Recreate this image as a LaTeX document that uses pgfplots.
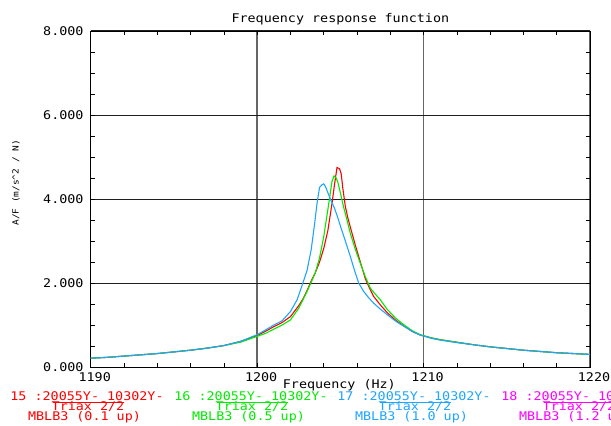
\documentclass[border=0pt]{standalone}
\usepackage{fontspec}
\setmainfont{DejaVu Sans Mono}[FakeStretch=1.12]
\usepackage{pgfplots}
\pgfplotsset{compat=1.18}
\definecolor{cred}{RGB}{255,0,0}
\definecolor{cgreen}{RGB}{0,235,0}
\definecolor{cblue}{RGB}{30,165,255}
\definecolor{cmag}{RGB}{255,0,255}

\pgfplotstableread{
f a
1190 0.21
1191 0.23
1192 0.26
1193 0.29
1194 0.32
1195 0.36
1196 0.40
1197 0.45
1198 0.51
1199 0.61
1200 0.75
1200.5 0.85
1201 0.96
1201.5 1.06
1202 1.20
1202.5 1.46
1202.75 1.62
1203 1.82
1203.25 2.05
1203.5 2.25
1203.75 2.50
1204 2.82
1204.25 3.25
1204.5 3.90
1204.65 4.35
1204.8 4.75
1204.95 4.72
1205.05 4.60
1205.15 4.25
1205.3 3.82
1205.45 3.55
1205.6 3.33
1205.9 2.90
1206.2 2.50
1206.5 2.10
1206.75 1.88
1207 1.68
1207.4 1.48
1207.8 1.30
1208.3 1.12
1208.8 0.98
1209.3 0.85
1209.8 0.76
1210.5 0.69
1211 0.65
1212 0.59
1213 0.53
1214 0.48
1215 0.44
1216 0.40
1217 0.37
1218 0.34
1219 0.32
1220 0.30
}\redtab

\pgfplotstableread{
f a
1190 0.21
1191 0.23
1192 0.26
1193 0.29
1194 0.32
1195 0.36
1196 0.40
1197 0.45
1198 0.51
1199 0.59
1200 0.73
1200.5 0.80
1201 0.90
1201.5 1.00
1202 1.12
1202.5 1.40
1202.75 1.60
1203 1.80
1203.25 2.02
1203.5 2.25
1203.75 2.60
1204 3.10
1204.25 3.75
1204.5 4.42
1204.62 4.55
1204.75 4.50
1204.85 4.40
1205 4.15
1205.2 3.80
1205.4 3.50
1205.6 3.18
1205.9 2.80
1206.2 2.47
1206.5 2.15
1206.8 1.88
1207 1.78
1207.4 1.60
1207.8 1.38
1208.3 1.17
1208.8 1.01
1209.3 0.87
1209.8 0.77
1210.5 0.69
1211 0.65
1212 0.59
1213 0.53
1214 0.48
1215 0.44
1216 0.40
1217 0.37
1218 0.34
1219 0.32
1220 0.30
}\greentab

\pgfplotstableread{
f a
1190 0.21
1191 0.23
1192 0.26
1193 0.29
1194 0.32
1195 0.36
1196 0.40
1197 0.45
1198 0.51
1199 0.61
1200 0.77
1200.5 0.88
1201 1.00
1201.5 1.10
1202 1.32
1202.4 1.60
1202.75 2.00
1203 2.30
1203.25 2.80
1203.45 3.40
1203.6 3.90
1203.75 4.28
1203.9 4.34
1204 4.36
1204.1 4.30
1204.25 4.15
1204.45 3.95
1204.65 3.78
1204.85 3.55
1205.05 3.30
1205.3 3.00
1205.6 2.63
1205.85 2.30
1206.1 2.00
1206.4 1.80
1206.7 1.65
1207 1.52
1207.4 1.38
1207.9 1.22
1208.4 1.07
1208.9 0.95
1209.4 0.83
1209.8 0.76
1210.5 0.68
1211 0.64
1212 0.58
1213 0.53
1214 0.48
1215 0.44
1216 0.40
1217 0.37
1218 0.34
1219 0.32
1220 0.30
}\bluetab

\begin{document}
\begin{tikzpicture}[x=1bp,y=1bp]
\path[use as bounding box] (0,0) rectangle (611,425);
\begin{axis}[
  at={(90.7bp,58bp)}, anchor=south west,
  scale only axis, width=499.3bp, height=336bp,
  xmin=1190, xmax=1220, ymin=0, ymax=8,
  xtick={1190,1200,1210,1220}, ytick={0,2,4,6,8},
  minor x tick num=4, minor y tick num=3,
  tick align=inside, tick pos=both,
  major tick length=4bp, minor tick length=4bp,
  every tick/.style={black, line width=0.7bp},
  grid=major,
  major x grid style={black!60, line width=1.4bp},
  major y grid style={black!88, line width=1bp},
  axis line style={black, line width=0.9bp},
  /pgf/number format/assume math mode=true,
  /pgf/number format/1000 sep={},
  ticklabel style={font=\fontsize{12}{12}\selectfont},
  yticklabel style={inner sep=0pt, xshift=-7bp,
    /pgf/number format/fixed, /pgf/number format/fixed zerofill,
    /pgf/number format/precision=3},
  xticklabel style={inner sep=0pt, yshift=-5bp, xshift=4bp},
  title={Frequency response function},
  title style={at={(axis description cs:0.5,1)}, anchor=base, yshift=3bp,
    font=\fontsize{12}{12}\selectfont},
  xlabel={Frequency (Hz)},
  xlabel style={at={(axis description cs:0.5,0)}, anchor=base, yshift=-21bp,
    xshift=-1bp, font=\fontsize{12}{12}\selectfont},
  ylabel={A/F (m/s\textasciicircum 2 / N)},
  ylabel style={at={(axis description cs:-0.1496,0.548)}, anchor=center,
    font=\fontsize{8.5}{8.5}\selectfont},
  every axis plot/.append style={line width=1.1bp, no marks},
]
\addplot[cred] table[x=f,y=a] {\redtab};
\addplot[cgreen] table[x=f,y=a] {\greentab};
\addplot[cblue] table[x=f,y=a] {\bluetab};
\end{axis}
\begin{scope}[font=\fontsize{12}{12}\selectfont]
\foreach \c/\col/\num/\lab in {87/cred/15/0.1, 251/cgreen/16/0.5, 414/cblue/17/1.0, 578/cmag/18/1.2}{
  \node[anchor=base, inner sep=0pt, text=\col] at (\c,25) {\num\ :20055Y- 10302Y-};
  \draw[\col, line width=0.9bp] (\c-34,22.3) -- (\c+37,22.3);
  \node[anchor=base, inner sep=0pt, text=\col] at (\c+1,15) {Triax 2/2};
  \node[anchor=base, inner sep=0pt, text=\col] at (\c-2.5,5) {MBLB3 (\lab\ up)};
}
\end{scope}
\end{tikzpicture}
\end{document}
